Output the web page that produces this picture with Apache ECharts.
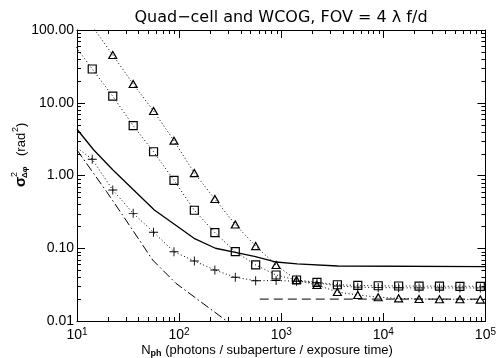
<!DOCTYPE html>
<html><head><meta charset="utf-8">
<script src="https://cdn.jsdelivr.net/npm/echarts@6/dist/echarts.min.js"></script>
<style>html,body{margin:0;padding:0;background:#fff}#c{width:499px;height:358px}</style>
</head><body><div id="c"></div>
<script>
// ---- data ----
const triX = [14.1, 22.4, 35.5, 56.2, 89.1, 141, 224, 355, 562, 891, 1413, 2239, 3548, 5623, 8913, 14125, 22387, 35481, 56234, 89125];
const triY = [113, 45.3, 18.1, 7.71, 3.01, 1.08, 0.475, 0.212, 0.107, 0.0589, 0.0366, 0.0313, 0.0250, 0.0228, 0.0212, 0.0205, 0.0201, 0.0199, 0.0199, 0.0197];

const sqX = [8.91, 14.1, 22.4, 35.5, 56.2, 89.1, 141, 224, 355, 562, 891, 1413, 2239, 3548, 5623, 8913, 14125, 22387, 35481, 56234, 89125];
const sqY = [69.5, 29.1, 12.3, 4.84, 2.12, 0.859, 0.333, 0.164, 0.0897, 0.0589, 0.0429, 0.0366, 0.0340, 0.0315, 0.0308, 0.0305, 0.0303, 0.0302, 0.0301, 0.0300, 0.0300];

const plusX = [10, 14.1, 22.4, 35.5, 56.2, 89.1, 141, 224, 355, 562, 891, 1413, 2239, 3548, 5623, 8913, 14125, 22387, 35481, 56234, 89125];
const plusY = [2.4, 1.67, 0.632, 0.302, 0.166, 0.0897, 0.0668, 0.0502, 0.0399, 0.0358, 0.0360, 0.0352, 0.0335, 0.0303, 0.0292, 0.0288, 0.0286, 0.0285, 0.0285, 0.0285, 0.0285];

const solidX = [10, 14.6, 22.5, 57.2, 140, 227, 355, 560, 893, 1429, 3573, 100000];
const solidY = [4.32, 2.24, 1.19, 0.336, 0.137, 0.100, 0.0879, 0.0765, 0.0647, 0.0608, 0.0570, 0.0558];

const dashDotX = [10, 19.5, 28.6, 55.1, 92.9, 284, 400];
const dashDotY = [2.24, 0.599, 0.272, 0.0689, 0.0330, 0.0103, 0.00726];

const dashX = [617, 100000];
const dashY = [0.020, 0.020];

const xMin = 10, xMax = 100000, yMin = 0.01, yMax = 100;
const xDecades = [10, 100, 1000, 10000];
const yDecades = [0.01, 0.1, 1, 10];
const minorMult = [2, 3, 4, 5, 6, 7, 8, 9];

const titleText = 'Quad\u2212cell and WCOG, FOV = 4 \u03bb f/d';

// ---- helpers ----
const zip = (xs, ys) => xs.map((x, i) => [x, ys[i]]);
const FONT = '"Liberation Sans", Arial, sans-serif';
const dotted = [1, 2.5];

const chart = echarts.init(document.getElementById('c'), null, {renderer: 'canvas'});

const minorXs = [], minorYs = [];
xDecades.forEach(d => minorMult.forEach(m => minorXs.push(d * m)));
yDecades.forEach(d => minorMult.forEach(m => minorYs.push(d * m)));

function ticksRender(params, api) {
  const cs = params.coordSys;
  const ch = [];
  const st = {stroke: '#000', lineWidth: 1};
  const L = 4;
  minorXs.forEach(v => {
    const x = Math.round(api.coord([v, 1])[0]) + 0.5;
    ch.push({type: 'line', shape: {x1: x, y1: cs.y + cs.height, x2: x, y2: cs.y + cs.height - L}, style: st});
    ch.push({type: 'line', shape: {x1: x, y1: cs.y, x2: x, y2: cs.y + L}, style: st});
  });
  minorYs.forEach(v => {
    const y = Math.round(api.coord([100, v])[1]) + 0.5;
    ch.push({type: 'line', shape: {x1: cs.x, y1: y, x2: cs.x + L, y2: y}, style: st});
    ch.push({type: 'line', shape: {x1: cs.x + cs.width, y1: y, x2: cs.x + cs.width - L, y2: y}, style: st});
  });
  return {type: 'group', children: ch};
}

const plusPath = 'path://M-0.1,-1 L0.1,-1 L0.1,-0.1 L1,-0.1 L1,0.1 L0.1,0.1 L0.1,1 L-0.1,1 L-0.1,0.1 L-1,0.1 L-1,-0.1 L-0.1,-0.1 Z';

const axisCommon = {
  type: 'log', logBase: 10,
  axisLine: {show: true, lineStyle: {color: '#000', width: 1}},
  axisTick: {show: true, inside: true, length: 8, lineStyle: {color: '#000', width: 1}},
  splitLine: {show: false},
  minorTick: {show: false}
};

const hollow = {color: 'rgba(0,0,0,0)', borderColor: '#000', borderWidth: 1.2};

const T = (text, x, y, size, extra) => ({type: 'text', x: x, y: y, style: Object.assign({
  text: text, fontSize: size, fontFamily: FONT, fill: '#000',
  textAlign: 'left', textVerticalAlign: 'middle', align: 'left', verticalAlign: 'middle'}, extra || {})});

const option = {
  backgroundColor: '#fff',
  animation: false,
  grid: {left: 77, top: 30, right: 10, bottom: 37, containLabel: false},
  xAxis: [
    Object.assign({}, axisCommon, {
      position: 'bottom', min: xMin, max: xMax,
      axisLabel: {
        margin: 6,
        formatter: v => '{b|10}{e|' + Math.round(Math.log10(v)) + '}',
        rich: {
          b: {fontSize: 14, fontFamily: FONT, color: '#000', lineHeight: 16},
          e: {fontSize: 10, fontFamily: FONT, color: '#000', verticalAlign: 'top', lineHeight: 10}
        }
      }
    }),
    Object.assign({}, axisCommon, {position: 'top', min: xMin, max: xMax, axisLabel: {show: false}})
  ],
  yAxis: [
    Object.assign({}, axisCommon, {
      position: 'left', min: yMin, max: yMax,
      axisLabel: {margin: 3, fontSize: 14, fontFamily: FONT, color: '#000', formatter: v => Number(v).toFixed(2)}
    }),
    Object.assign({}, axisCommon, {position: 'right', min: yMin, max: yMax, axisLabel: {show: false}})
  ],
  graphic: [
    {type: 'text', x: 281, y: 18, style: {text: titleText, fontSize: 16, fontFamily: '"DejaVu Sans", sans-serif', fill: '#000', textAlign: 'center', textVerticalAlign: 'middle', align: 'center', verticalAlign: 'middle'}},
    {type: 'text', x: 267, y: 350, style: {
      text: '{n|N}{s|ph}{n| (photons / subaperture / exposure time)}',
      textAlign: 'center', textVerticalAlign: 'middle', align: 'center', verticalAlign: 'middle',
      rich: {
        n: {fontSize: 13, fontFamily: FONT, fill: '#000', color: '#000', lineHeight: 16},
        s: {fontSize: 9, fontFamily: FONT, fill: '#000', color: '#000', fontWeight: 'bold', verticalAlign: 'bottom', lineHeight: 10}
      }
    }},
    {type: 'group', x: 21, y: 187, rotation: Math.PI / 2, children: [
      T('\u03c3', 0, 0, 15, {fontWeight: 'bold'}),
      T('2', 10, -6, 9),
      T('\u0394\u03c6', 9, 4, 8, {fontWeight: 'bold'}),
      T('(rad', 31, 0, 13),
      T('2', 55, -5, 9),
      T(')', 60, 0, 13)
    ]}
  ],
  series: [
    {type: 'custom', renderItem: ticksRender, data: [[100, 1]], silent: true, clip: false, z: 5},
    {type: 'line', data: zip(solidX, solidY), showSymbol: false, symbol: 'none', clip: true,
     lineStyle: {color: '#000', width: 1.3, type: 'solid'}, silent: true},
    {type: 'line', data: zip(dashDotX, dashDotY), symbol: 'none', clip: true,
     lineStyle: {color: '#000', width: 1, type: [9, 3, 1.5, 3]}, silent: true},
    {type: 'line', data: zip(dashX, dashY), symbol: 'none', clip: true,
     lineStyle: {color: '#000', width: 1, type: [9, 5]}, silent: true},
    {type: 'line', data: zip(triX, triY), symbol: 'triangle', symbolSize: [8, 7], showAllSymbol: true, clip: true,
     itemStyle: hollow, lineStyle: {color: '#000', width: 1, type: dotted}, silent: true},
    {type: 'line', data: zip(sqX, sqY), symbol: 'rect', symbolSize: 8, showAllSymbol: true, clip: true,
     itemStyle: hollow, lineStyle: {color: '#000', width: 1, type: dotted}, silent: true},
    {type: 'line', data: plusX.map((x, i) => i === 0 ? {value: [x, plusY[i]], symbol: 'none'} : [x, plusY[i]]),
     symbol: plusPath, symbolSize: 9, showAllSymbol: true, clip: true,
     itemStyle: {color: '#000', borderWidth: 0}, lineStyle: {color: '#000', width: 1, type: dotted}, silent: true}
  ]
};
chart.setOption(option);
</script>
</body></html>
